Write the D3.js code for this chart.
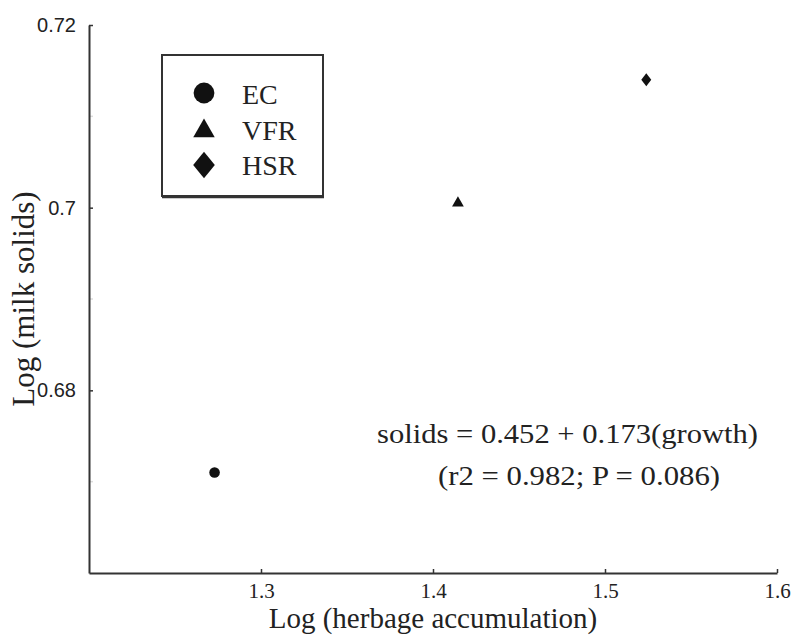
<!DOCTYPE html>
<html>
<head>
<meta charset="utf-8">
<script src="https://cdn.jsdelivr.net/npm/d3@7"></script>
<style>
  html, body { margin: 0; padding: 0; background: #fff; }
  svg { display: block; }
</style>
</head>
<body>
<svg id="chart" width="795" height="635"></svg>
<script>
// Treatment means on log scales
const treatments = ["EC", "VFR", "HSR"];
const herbage = [1.273, 1.4145, 1.524];
const milkSolids = [0.671, 0.7005, 0.714];

// Axis ticks
const xTicks = [1.3, 1.4, 1.5, 1.6];
const xTickLabels = ["1.3", "1.4", "1.5", "1.6"];
const yTicks = [0.68, 0.70, 0.72];
const yTickLabels = ["0.68", "0.7", "0.72"];
const yMinorTicks = [0.67, 0.69, 0.71];

const equation = ["solids = 0.452 + 0.173(growth)", "(r2 = 0.982; P = 0.086)"];

const svg = d3.select("#chart");
const ink = "#333";
const serif = "'Liberation Serif', 'Times New Roman', serif";
const sans = "'Liberation Sans', Arial, sans-serif";

const x = d3.scaleLinear().domain([1.2, 1.6]).range([89, 777]);
const y = d3.scaleLinear().domain([0.66, 0.72]).range([573, 25]);

// Marker shapes: circle, triangle, and a diamond built from a rotated square
function marker(i, size) {
  if (i === 0) return d3.symbol().type(d3.symbolCircle).size(size)();
  if (i === 1) return d3.symbol().type(d3.symbolTriangle).size(size)();
  return d3.symbol().type(d3.symbolSquare).size(size)();
}
function markerTransform(i, cx, cy, stretch) {
  if (i === 2) return `translate(${cx},${cy}) scale(1,${stretch}) rotate(45)`;
  return `translate(${cx},${cy})`;
}

// Faint minor ticks along the y axis
svg.append("g").selectAll("line").data(yMinorTicks).join("line")
  .attr("x1", x(1.2)).attr("x2", x(1.2) + 4)
  .attr("y1", d => y(d)).attr("y2", d => y(d))
  .attr("stroke", "#ddd").attr("stroke-width", 1.5);

// Axes
const xAxis = d3.axisBottom(x)
  .tickValues(xTicks)
  .tickFormat((d, i) => xTickLabels[i])
  .tickSizeInner(-4).tickSizeOuter(0).tickPadding(10);
const yAxis = d3.axisLeft(y)
  .tickValues(yTicks)
  .tickFormat((d, i) => yTickLabels[i])
  .tickSizeInner(-4).tickSizeOuter(0).tickPadding(13);

const gx = svg.append("g").attr("transform", `translate(0,${y(0.66)})`).call(xAxis);
gx.select(".domain").attr("stroke", ink).attr("stroke-width", 2);
gx.selectAll(".tick line").attr("stroke", ink).attr("stroke-width", 1.5);
gx.selectAll(".tick text").attr("fill", "#222")
  .style("font-family", serif).style("font-size", "21px");

const gy = svg.append("g").attr("transform", `translate(${x(1.2)},0)`).call(yAxis);
gy.select(".domain").attr("stroke", ink).attr("stroke-width", 2);
gy.selectAll(".tick line").attr("stroke", ink).attr("stroke-width", 1.5);
gy.selectAll(".tick text").attr("fill", "#222")
  .style("font-family", sans).style("font-size", "20px");

// Axis titles
svg.append("text")
  .attr("x", x(1.4)).attr("y", 628)
  .attr("text-anchor", "middle")
  .attr("fill", "#222")
  .style("font-family", serif).style("font-size", "29px")
  .text("Log (herbage accumulation)");

svg.append("text")
  .attr("transform", `translate(34,${(y(0.68) + y(0.70)) / 2}) rotate(-90)`)
  .attr("text-anchor", "middle")
  .attr("fill", "#222")
  .style("font-family", serif).style("font-size", "31px")
  .text("Log (milk solids)");

// Data points
const dataSizes = [88, 60, 50];
svg.append("g").selectAll("path").data(treatments).join("path")
  .attr("d", (d, i) => marker(i, dataSizes[i]))
  .attr("transform", (d, i) => markerTransform(i, x(herbage[i]), y(milkSolids[i]), 1.3))
  .attr("fill", "#111");

// Legend
const legend = svg.append("g");
legend.append("rect")
  .attr("x", 162).attr("y", 55).attr("width", 161).attr("height", 141)
  .attr("fill", "none").attr("stroke", ink).attr("stroke-width", 2);
legend.append("line")
  .attr("x1", 162).attr("x2", 324).attr("y1", 197).attr("y2", 197)
  .attr("stroke", ink).attr("stroke-width", 2.5);

const legendRows = [93, 131, 165];
const legendBase = [104, 140, 175];
const legendSizes = [340, 200, 235];
legend.selectAll("path").data(treatments).join("path")
  .attr("d", (d, i) => marker(i, legendSizes[i]))
  .attr("transform", (d, i) => markerTransform(i, 204, legendRows[i], 1.23))
  .attr("fill", "#111");
legend.selectAll("text").data(treatments).join("text")
  .attr("x", 242).attr("y", (d, i) => legendBase[i])
  .attr("fill", "#222")
  .style("font-family", serif).style("font-size", "28px")
  .text(d => d);

// Regression equation
const eqX = [377, 438];
const eqY = [443, 485];
const eqW = [381, 282];
svg.append("g").selectAll("text").data(equation).join("text")
  .attr("x", (d, i) => eqX[i]).attr("y", (d, i) => eqY[i])
  .attr("textLength", (d, i) => eqW[i])
  .attr("lengthAdjust", "spacingAndGlyphs")
  .attr("fill", "#222")
  .style("font-family", serif).style("font-size", "27px")
  .text(d => d);
</script>
</body>
</html>
